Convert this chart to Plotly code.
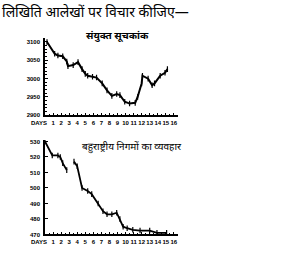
import plotly.graph_objects as go

# Top chart: composite index (संयुक्त सूचकांक)
index_days = [0.25, 1.2, 1.6, 2.2, 2.7, 2.85, 3.5, 4.1, 4.6, 5.0, 5.3, 5.9, 6.4, 7.1, 7.7,
              8.3, 8.9, 9.3, 9.9, 10.5, 11.2, 11.5, 12.0, 12.1, 12.8, 13.3, 13.6, 14.3, 14.9, 15.2]
index_vals = [3100, 3068, 3063, 3061, 3047, 3034, 3037, 3045, 3026, 3013, 3008, 3005, 3003, 2987, 2968,
              2953, 2958, 2955, 2937, 2932, 2934, 2950, 2987, 3008, 3000, 2982, 2987, 3008, 3016, 3026]
index_ticks = [2900, 2950, 3000, 3050, 3100]

# Bottom chart: MNC behaviour (बहुराष्ट्रीय निगमों का व्यवहार)
mnc_days = [0.0, 0.9, 1.6, 1.9, 2.2, 2.7, None, 3.6, 4.0, 4.6, 5.3, 5.8, 6.6, 7.2, 7.7,
            8.3, 8.9, 9.3, 9.7, 10.2, 10.9, 11.8, 13.0, 13.9, 15.1]
mnc_vals = [530, 521, 521, 520, 516, 511.5, None, 517, 514, 500, 498, 496, 490, 485, 483,
            483, 484, 480, 475, 474, 473, 472.5, 472.5, 471, 471]
mnc_ticks = [470, 480, 490, 500, 510, 520, 530]

day_ticks = list(range(1, 17))
day_labels = [str(d) for d in day_ticks]

header = "लिखिति आलेखों पर विचार कीजिए—"
title_top = "संयुक्त सूचकांक"
title_bottom = "बहुराष्ट्रीय निगमों का व्यवहार"

DEV = "Noto Sans Devanagari, Noto Sans, sans-serif"
TICKF = dict(family="Liberation Sans Narrow, Liberation Sans, sans-serif", size=6, color="black", weight="bold")

fig = go.Figure()
fig.add_trace(go.Scatter(x=index_days, y=index_vals, mode="lines+markers",
                         line=dict(color="black", width=2),
                         marker=dict(symbol="line-ns", size=4, line=dict(color="black", width=1.2)),
                         xaxis="x", yaxis="y", showlegend=False))
fig.add_trace(go.Scatter(x=mnc_days, y=mnc_vals, mode="lines+markers", connectgaps=False,
                         line=dict(color="black", width=1.8),
                         marker=dict(symbol="line-ns", size=4, line=dict(color="black", width=1.2)),
                         xaxis="x2", yaxis="y2", showlegend=False))

xcommon = dict(range=[0, 16.5], tickvals=day_ticks, ticktext=day_labels, ticks="inside",
               ticklen=3, tickcolor="black", showline=True, linecolor="black", linewidth=1.5,
               showgrid=False, zeroline=False, tickfont=TICKF, ticklabelstandoff=1, tickangle=0,
               minor=dict(ticks="inside", ticklen=2, dtick=0.5, tickcolor="black", showgrid=False))
ycommon = dict(ticks="inside", ticklen=3, tickcolor="black", showline=True, linecolor="black",
               linewidth=1.5, showgrid=False, zeroline=False, tickfont=TICKF, ticklabelstandoff=2)

fig.update_layout(
    width=300, height=258, margin=dict(l=0, r=0, t=0, b=0),
    paper_bgcolor="white", plot_bgcolor="white",
    xaxis=dict(domain=[0.15, 0.593], anchor="y", **xcommon),
    yaxis=dict(domain=[0.55, 0.853], anchor="x", range=[2900, 3110], tickvals=index_ticks,
               minor=dict(ticks="inside", ticklen=2, dtick=10, tickcolor="black", showgrid=False),
               **ycommon),
    xaxis2=dict(domain=[0.15, 0.593], anchor="y2", **xcommon),
    yaxis2=dict(domain=[0.081, 0.453], anchor="x2", range=[470, 531], tickvals=mnc_ticks,
                **ycommon),
    annotations=[
        dict(text=header, x=0.0, y=1.0, xref="paper", yref="paper", xanchor="left", yanchor="top",
             showarrow=False, font=dict(family=DEV, size=14, color="black")),
        dict(text=title_top, x=0.28, y=0.862, xref="paper", yref="paper", xanchor="left",
             yanchor="middle", showarrow=False, font=dict(family=DEV, size=10, color="black", weight="bold")),
        dict(text=title_bottom, x=0.265, y=0.425, xref="paper", yref="paper", xanchor="left",
             yanchor="middle", showarrow=False, font=dict(family=DEV, size=10, color="black")),
        dict(text="DAYS", x=0.0, y=2900, xref="x", yref="y", xanchor="right", yanchor="top",
             yshift=-3, xshift=4, showarrow=False, font=TICKF),
        dict(text="DAYS", x=0.0, y=470, xref="x2", yref="y2", xanchor="right", yanchor="top",
             yshift=-3, xshift=4, showarrow=False, font=TICKF),
    ],
)

fig.write_html("out.html")
